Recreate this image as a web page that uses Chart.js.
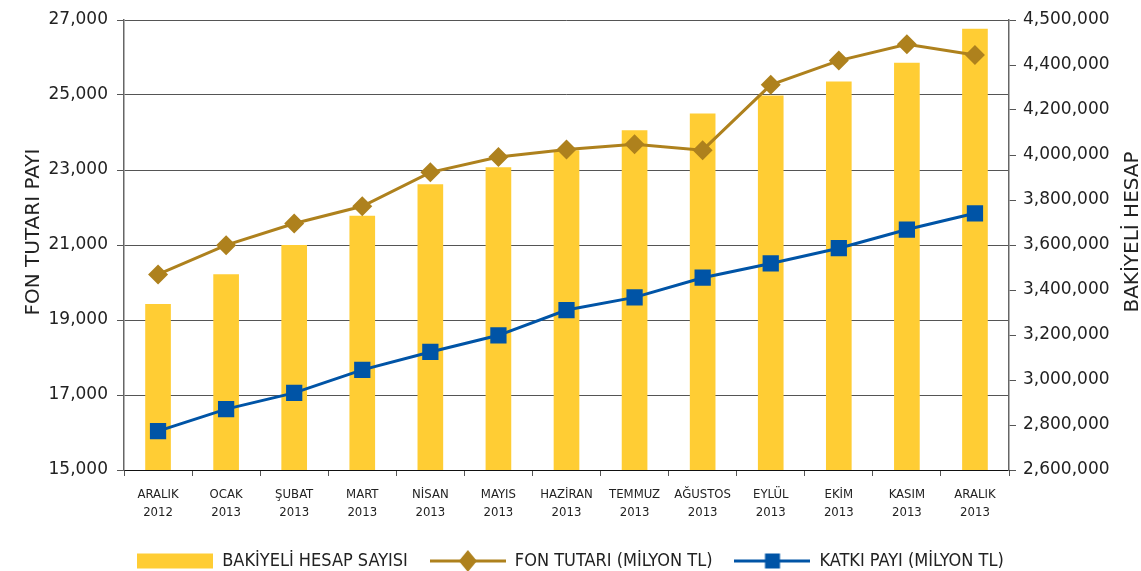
<!DOCTYPE html>
<html><head><meta charset="utf-8">
<script src="https://cdn.jsdelivr.net/npm/chart.js@4.4.1/dist/chart.umd.min.js"></script>
<style>html,body{margin:0;padding:0;background:#fff}#wrap{width:1141px;height:571px}</style>
</head><body><div id="wrap"><canvas id="c" width="1141" height="571"></canvas></div>
<script>
const months = [['ARALIK','2012'],['OCAK','2013'],['ŞUBAT','2013'],['MART','2013'],['NİSAN','2013'],['MAYIS','2013'],['HAZİRAN','2013'],['TEMMUZ','2013'],['AĞUSTOS','2013'],['EYLÜL','2013'],['EKİM','2013'],['KASIM','2013'],['ARALIK','2013']];
const bakiyeliHesap = [3336000,3469000,3599000,3728000,3868000,3944000,4020000,4108000,4183000,4263000,4325000,4409000,4560000];
const fonTutari = [20215,20995,21572,22033,22937,23347,23545,23688,23530,25271,25917,26354,26069];
const katkiPayi = [16038,16623,17057,17669,18148,18592,19265,19603,20127,20508,20915,21413,21846];
const leftTicks = [15000,17000,19000,21000,23000,25000,27000];
const rightTickLabels = ['2,600,000','2,800,000','3,000,000','3,200,000','3,400,000','3,600,000','3,800,000','4,000,000','4,200,000','4,400,000','4,500,000'];
const seriesNames = ['BAKİYELİ HESAP SAYISI','FON TUTARI (MİLYON TL)','KATKI PAYI (MİLYON TL)'];
const axisTitles = ['FON TUTARI PAYI','BAKİYELİ HESAP'];

const BAR = '#FFCD34', GOLD = '#AE811D', BLUE = '#0054A6', GRID = '#555', TXT = '#222';

function legendImg(kind){
  const c = document.createElement('canvas'); c.width = 76; c.height = 24;
  const g = c.getContext('2d');
  if (kind === 'bar') { g.fillStyle = BAR; g.fillRect(0, 4.5, 76, 15); return c; }
  const col = kind === 'diamond' ? GOLD : BLUE;
  g.strokeStyle = col; g.lineWidth = 3; g.beginPath(); g.moveTo(0,12); g.lineTo(76,12); g.stroke();
  g.fillStyle = col; g.beginPath();
  if (kind === 'diamond') { g.moveTo(38,1); g.lineTo(47,12); g.lineTo(38,23); g.lineTo(29,12); g.closePath(); }
  else { g.rect(30.5,4.5,15,15); }
  g.fill();
  return c;
}
const legendImgs = [legendImg('bar'), legendImg('diamond'), legendImg('square')];

const titlePlugin = {
  id: 'axisTitles',
  afterDraw(chart){
    const ctx = chart.ctx;
    ctx.save();
    ctx.font = '20px "DejaVu Sans"'; ctx.fillStyle = TXT;
    ctx.textAlign = 'center'; ctx.textBaseline = 'middle';
    ctx.translate(34, 232); ctx.rotate(-Math.PI/2); ctx.fillText(axisTitles[0], 0, 0);
    ctx.restore(); ctx.save();
    ctx.font = '20px "DejaVu Sans"'; ctx.fillStyle = TXT;
    ctx.textAlign = 'center'; ctx.textBaseline = 'middle';
    ctx.translate(1133, 232); ctx.rotate(-Math.PI/2); ctx.fillText(axisTitles[1], 0, 0);
    ctx.restore();
  }
};

Chart.defaults.font.family = '"DejaVu Sans"';
Chart.defaults.color = TXT;

new Chart(document.getElementById('c'), {
  type: 'bar',
  data: {
    labels: months,
    datasets: [
      { label: seriesNames[0], data: bakiyeliHesap, yAxisID: 'yR', backgroundColor: BAR, barThickness: 25, order: 3 },
      { type: 'line', label: seriesNames[1], data: fonTutari, yAxisID: 'yL', borderColor: GOLD, backgroundColor: GOLD,
        borderWidth: 3, pointStyle: 'rectRot', pointRadius: 10, pointBorderWidth: 0, pointBackgroundColor: GOLD, tension: 0, order: 2 },
      { type: 'line', label: seriesNames[2], data: katkiPayi, yAxisID: 'yL', borderColor: BLUE, backgroundColor: BLUE,
        borderWidth: 3, pointStyle: 'rect', pointRadius: 11.5, pointBorderWidth: 0, pointBackgroundColor: BLUE, tension: 0, order: 1 }
    ]
  },
  options: {
    responsive: false, animation: false,
    layout: { padding: { top: 20, bottom: -9, left: 0, right: 0 } },
    plugins: {
      tooltip: { enabled: false },
      legend: {
        position: 'bottom',
        labels: {
          usePointStyle: true, pointStyleWidth: 76, padding: 22, color: TXT,
          font: { family: '"DejaVu Sans Condensed"', size: 18 },
          generateLabels: (chart) => seriesNames.map((n, i) => ({
            text: n, pointStyle: legendImgs[i], fillStyle: 'rgba(0,0,0,0)', strokeStyle: 'rgba(0,0,0,0)',
            lineWidth: 0, hidden: false, datasetIndex: i, fontColor: TXT
          }))
        }
      }
    },
    scales: {
      x: {
        offset: true,
        grid: { display: true, drawOnChartArea: false, drawTicks: true, tickLength: 6, offset: true, color: GRID },
        border: { display: true, color: '#111', width: 1 },
        ticks: { font: { family: '"DejaVu Sans Condensed"', size: 13, lineHeight: 1.35 }, padding: 10, color: TXT, maxRotation: 0, autoSkip: false },
        afterFit: (s) => { s.height = 60; }
      },
      yL: {
        position: 'left', min: leftTicks[0], max: leftTicks[leftTicks.length-1],
        afterBuildTicks: (s) => { s.ticks = leftTicks.map(v => ({ value: v })); },
        grid: { color: GRID, tickLength: 7, lineWidth: 1 },
        border: { display: true, color: '#666', width: 1.5 },
        ticks: { font: { size: 17 }, padding: 9, color: TXT, callback: (v) => v.toLocaleString('en-US') },
        afterFit: (s) => { s.width = 124; }
      },
      yR: {
        position: 'right', min: 2600000, max: 4600000,
        ticks: { stepSize: 200000, font: { size: 17 }, padding: 7, color: TXT, callback: (v, i) => rightTickLabels[i] },
        grid: { drawOnChartArea: false, color: GRID, tickLength: 7 },
        border: { display: true, color: '#666', width: 1.5 },
        afterFit: (s) => { s.width = 132; }
      }
    }
  },
  plugins: [titlePlugin]
});
</script>
</body></html>
